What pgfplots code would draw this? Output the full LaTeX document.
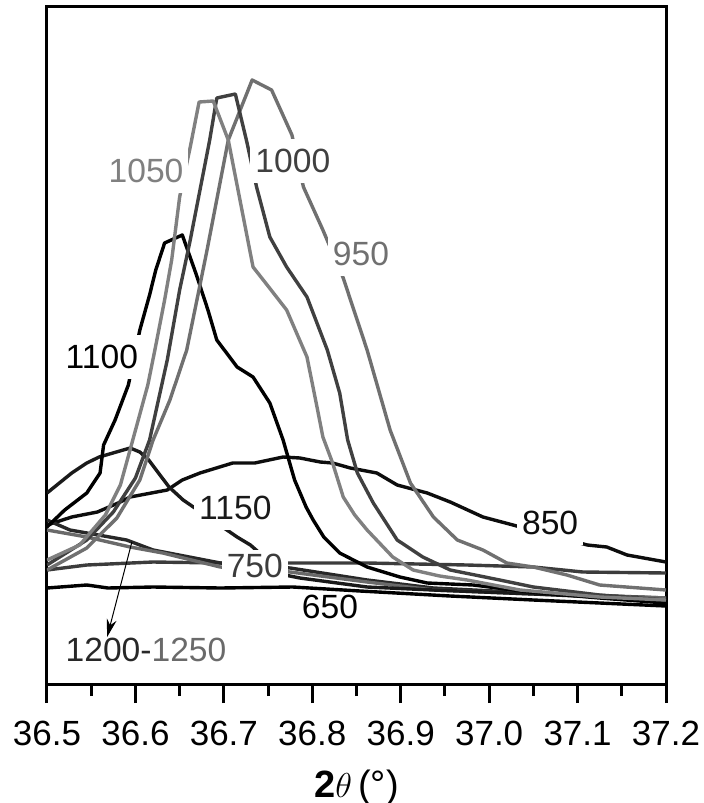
\documentclass[border=0pt]{standalone}
\usepackage{fontspec}
\setmainfont{Liberation Sans}
\usepackage{pgfplots}
\pgfplotsset{compat=1.18}
\usetikzlibrary{arrows.meta}
\definecolor{c1050}{HTML}{808080}
\definecolor{c1000}{HTML}{404040}
\definecolor{c950}{HTML}{707070}
\definecolor{c1100}{HTML}{000000}
\definecolor{c1150}{HTML}{1A1A1A}
\definecolor{c850}{HTML}{0D0D0D}
\definecolor{c750}{HTML}{3C3C3C}
\definecolor{c650}{HTML}{000000}
\definecolor{c1200}{HTML}{282828}
\definecolor{c1250}{HTML}{6A6A6A}
\tikzset{lbl/.style={fill=white, inner xsep=2.5pt, inner ysep=5pt, font=\fontsize{16.8}{19}\selectfont}}
\begin{document}
\begin{tikzpicture}
\useasboundingbox (0,0) rectangle (351.5pt,-401.5pt);
\begin{axis}[
  at={(23.5pt,-342pt)}, anchor=south west,
  scale only axis, width=309.5pt, height=339pt,
  xmin=36.5, xmax=37.2, ymin=0, ymax=678,
  axis line style={line width=1.5pt},
  ytick=\empty,
  xtick={36.5,36.6,36.7,36.8,36.9,37.0,37.1,37.2},
  minor x tick num=1,
  xtick pos=left,
  tick align=outside,
  major tick length=9.5pt, minor tick length=6pt,
  every tick/.style={black, line width=1.5pt},
  /pgf/number format/assume math mode=true,
  xticklabel style={font=\fontsize{17.5}{20}\selectfont, yshift=-5.5pt, /pgf/number format/.cd, fixed, fixed zerofill, precision=1},
  xlabel={\textbf{2}$\theta$\,(°)},
  xlabel style={font=\fontsize{19}{22}\selectfont, at={(axis description cs:0.5,0)}, anchor=center, yshift=-52pt},
  every axis plot/.append style={line width=1.7pt, line join=round, no markers},
]
% 650
\addplot[c650] coordinates {(36.500,96) (36.545,99) (36.569,96) (36.620,97) (36.696,96) (36.778,97) (36.854,93) (36.956,88) (37.050,84) (37.125,81) (37.200,78)};
% 750
\addplot[c750] coordinates {(36.500,114) (36.545,119) (36.620,122) (36.696,121) (36.772,121) (36.862,121) (36.975,119) (37.050,117) (37.106,112) (37.200,111)};
% 850
\addplot[c850] coordinates {(36.500,159) (36.528,167) (36.557,172) (36.583,182) (36.594,187) (36.636,194) (36.653,204) (36.673,211) (36.710,221) (36.735,221) (36.767,227) (36.786,226) (36.809,222) (36.823,221) (36.843,216) (36.873,211) (36.896,199) (36.930,191) (36.956,182) (36.993,167) (37.027,159) (37.111,139) (37.133,137) (37.156,129) (37.200,122)};
% 1200
\addplot[c1200] coordinates {(36.500,164) (36.526,154) (36.590,144) (36.620,134) (36.696,121) (36.775,116) (36.862,104) (36.937,96) (37.050,91) (37.200,86)};
% 1250
\addplot[c1250] coordinates {(36.500,154) (36.545,147) (36.594,137) (36.631,131) (36.696,117) (36.775,112) (36.862,102) (36.937,94) (37.050,90) (37.200,86)};
% 1150
\addplot[c1150] coordinates {(36.500,191) (36.528,211) (36.545,221) (36.559,227) (36.594,236) (36.605,232) (36.615,224) (36.638,197) (36.654,184) (36.715,147) (36.730,139) (36.769,109) (36.786,106) (36.862,97) (36.937,94) (37.050,90) (37.200,84)};
% 1100
\addplot[c1100] coordinates {(36.500,157) (36.520,174) (36.545,191) (36.560,211) (36.564,239) (36.577,264) (36.592,299) (36.605,354) (36.616,389) (36.623,414) (36.633,441) (36.653,449) (36.661,429) (36.669,409) (36.682,374) (36.692,344) (36.715,317) (36.733,307) (36.752,281) (36.767,244) (36.780,204) (36.793,177) (36.801,164) (36.813,147) (36.831,131) (36.862,117) (36.899,107) (36.930,101) (36.982,99) (37.046,92) (37.125,86) (37.200,81)};
% 950
\addplot[c950] coordinates {(36.500,114) (36.545,136) (36.579,166) (36.605,204) (36.620,244) (36.639,284) (36.658,334) (36.673,399) (36.681,434) (36.705,544) (36.732,604) (36.754,594) (36.777,549) (36.790,497) (36.812,454) (36.835,406) (36.862,334) (36.888,254) (36.911,201) (36.937,167) (36.964,144) (36.993,134) (37.020,121) (37.050,117) (37.088,109) (37.125,99) (37.200,94)};
% 1000
\addplot[c1000] coordinates {(36.500,119) (36.545,144) (36.575,172) (36.600,206) (36.616,244) (36.636,324) (36.650,394) (36.662,444) (36.684,544) (36.692,586) (36.713,590) (36.726,542) (36.737,497) (36.752,447) (36.771,417) (36.794,387) (36.817,334) (36.831,291) (36.840,244) (36.851,211) (36.869,181) (36.896,144) (36.925,127) (36.956,114) (37.012,104) (37.050,97) (37.125,89) (37.200,84)};
% 1050
\addplot[c1050] coordinates {(36.500,124) (36.537,139) (36.566,169) (36.583,199) (36.597,244) (36.614,299) (36.622,334) (36.633,384) (36.641,424) (36.650,487) (36.662,537) (36.672,582) (36.688,583) (36.705,544) (36.733,417) (36.749,399) (36.771,374) (36.794,327) (36.806,274) (36.812,247) (36.823,221) (36.835,187) (36.848,169) (36.862,154) (36.891,127) (36.914,114) (36.944,108) (36.975,104) (37.035,94) (37.125,87) (37.200,84)};
% labels
\node[lbl, text=c1050] at (axis cs:36.612,513) {1050};
\node[lbl, text=c1000] at (axis cs:36.778,523) {1000};
\node[lbl, text=c950] at (axis cs:36.855,430) {950};
\node[lbl, text=c1100] at (axis cs:36.562,327) {1100};
\node[lbl, text=c1150] at (axis cs:36.713,176) {1150};
\node[lbl, text=c850] at (axis cs:37.069,161) {850};
\node[lbl, text=c750, inner ysep=2pt] at (axis cs:36.735,118) {750};
\node[lbl, text=c650, fill=none] at (axis cs:36.820,77) {650};
\node[lbl, fill=none] at (axis cs:36.612,34) {\textcolor{c1200}{1200-}\textcolor{c1250}{1250}};
\draw[-{Stealth[length=9pt,width=5pt]}, line width=0.5pt] (axis cs:36.596,142) -- (axis cs:36.568,47);
\end{axis}
\end{tikzpicture}
\end{document}
